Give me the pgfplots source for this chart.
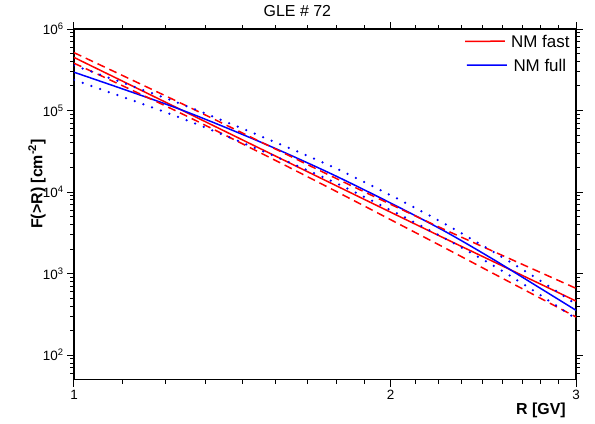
\documentclass[border=0pt]{standalone}
\usepackage{fontspec}
\setmainfont{Liberation Sans}
\usepackage{pgfplots}
\pgfplotsset{compat=1.18}
\definecolor{myred}{RGB}{255,0,0}
\definecolor{myblue}{RGB}{0,0,255}
\begin{document}
\begin{tikzpicture}
\path[use as bounding box] (-74bp,-44.3bp) rectangle (521bp,379.7bp);
\begin{loglogaxis}[
  scale only axis, width=502bp, height=350.7bp,
  xmin=1, xmax=3, ymin=50, ymax=1e6,
  xtick={1,2,3}, xticklabels={1,2,3},
  minor xtick={1.1111,1.2222,1.3333,1.4444,1.5556,1.6667,1.7778,1.8889,2.1111,2.2222,2.3333,2.4444,2.5556,2.6667,2.7778,2.8889},
  ytick={1e2,1e3,1e4,1e5,1e6},
  yticklabels={10\textsuperscript{2},10\textsuperscript{3},10\textsuperscript{4},10\textsuperscript{5},10\textsuperscript{6}},
  minor ytick={60,70,80,90,200,300,400,500,600,700,800,900,2000,3000,4000,5000,6000,7000,8000,9000,2e4,3e4,4e4,5e4,6e4,7e4,8e4,9e4,2e5,3e5,4e5,5e5,6e5,7e5,8e5,9e5},
  tick align=outside,
  major tick length=7bp, minor tick length=4bp,
  every tick/.style={black, line width=1bp},
  axis line style={line width=1.3bp},
  xticklabel style={font=\fontsize{13.5}{13.5}\selectfont},
  yticklabel style={font=\fontsize{13.5}{13.5}\selectfont},
  title={GLE \# 72},
  title style={font=\fontsize{16}{16}\selectfont, at={(axis description cs:0.445,1.034)}, anchor=center},
  xlabel={\textbf{R [GV]}},
  xlabel style={font=\fontsize{16}{16}\selectfont, at={(axis description cs:0.9867,-0.0864)}, anchor=east},
  ylabel={\textbf{F(>R) [cm\textsuperscript{-2}]}},
  ylabel style={font=\fontsize{16}{16}\selectfont, at={(axis description cs:-0.0737,0.558)}, anchor=center},
]
\node[anchor=west, inner sep=0pt, font=\fontsize{17}{17}\selectfont] at (axis description cs:0.8705,0.9649) {NM fast};
\node[anchor=west, inner sep=0pt, font=\fontsize{17}{17}\selectfont] at (axis description cs:0.8751,0.8965) {NM full};
% legend samples
\addplot[myred, line width=1.5bp, smooth] coordinates {(2.353,7.07e5) (2.46,7.075e5) (2.568,7.08e5)};
\addplot[myblue, line width=1.5bp, smooth] coordinates {(2.363,3.597e5) (2.47,3.60e5) (2.579,3.603e5)};
\addplot[myred, line width=1.5bp, smooth] coordinates {
(1,4.48e5) (1.25,1.096e5) (1.5,3.46e4) (1.75,1.31e4) (2,5.66e3) (2.25,2.71e3) (2.5,1.416e3) (2.75,788) (3,461)};
\addplot[myblue, line width=1.5bp, smooth] coordinates {
(1,2.95e5) (1.25,1.08e5) (1.5,4.17e4) (1.75,1.71e4) (2,7.33e3) (2.25,3.32e3) (2.5,1.51e3) (2.75,710) (3,355)};
\addplot[myred, line width=1.5bp, smooth, dash pattern=on 8bp off 5bp] coordinates {
(1,5.13e5) (1.25,1.316e5) (1.5,4.21e4) (1.75,1.605e4) (2,7.07e3) (2.25,3.47e3) (2.5,1.888e3) (2.75,1.09e3) (3,660)};
\addplot[myred, line width=1.5bp, smooth, dash pattern=on 8bp off 5bp] coordinates {
(1,3.81e5) (1.25,9.9e4) (1.5,3.08e4) (1.75,1.12e4) (2,4.58e3) (2.25,2.077e3) (2.5,1.013e3) (2.75,531) (3,294)};
\addplot[myblue, line width=2.5bp, smooth, dash pattern=on 0bp off 9.2bp, line cap=round] coordinates {
(1,3.57e5) (1.25,1.272e5) (1.5,4.93e4) (1.75,2.116e4) (2,9.14e3) (2.25,4.095e3) (2.5,1.866e3) (2.75,882) (3,421)};
\addplot[myblue, line width=2.5bp, smooth, dash pattern=on 0bp off 9.2bp, line cap=round] coordinates {
(1,2.377e5) (1.25,8.55e4) (1.5,3.31e4) (1.75,1.402e4) (2,6.0e3) (2.25,2.714e3) (2.5,1.269e3) (2.75,588) (3,280)};
\end{loglogaxis}
\end{tikzpicture}
\end{document}
